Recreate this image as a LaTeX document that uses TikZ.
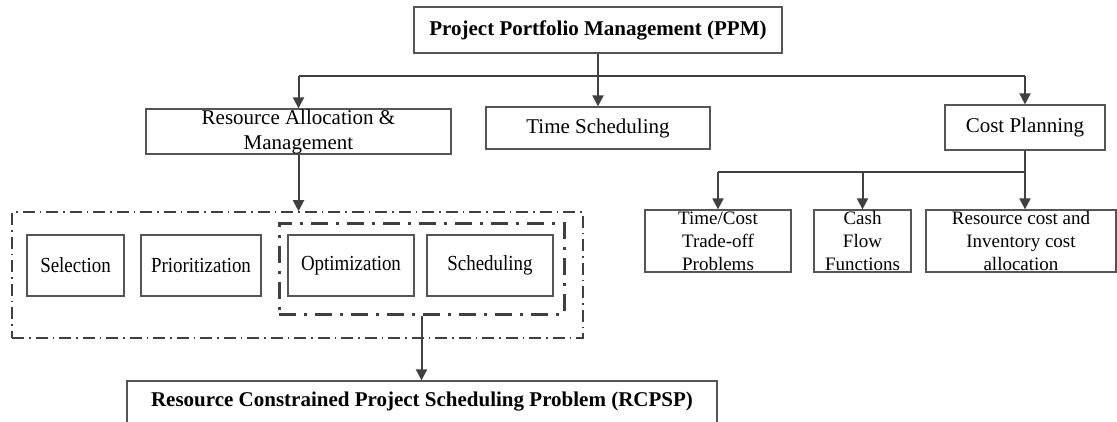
\documentclass[tikz,border=0pt]{standalone}
\usepackage{fontspec}
\setmainfont{Liberation Serif}
\newfontfamily\condfont[FakeStretch=0.88]{Liberation Serif}
\usetikzlibrary{arrows.meta}
\definecolor{linegray}{HTML}{404040}
\definecolor{boxgray}{HTML}{555555}
\begin{document}
\begin{tikzpicture}[x=1pt,y=-1pt,
  box/.style={draw=boxgray, line width=1.3pt, inner sep=0pt, align=center, font=\fontsize{19}{23}\selectfont},
  condbox/.style={box, font=\condfont\fontsize{21.5}{25}\selectfont},
  bigbox/.style={box, font=\fontsize{21}{25}\selectfont},
  boldbox/.style={box, font=\fontsize{21}{25}\selectfont\bfseries},
  conn/.style={draw=linegray, line width=2pt},
  arr/.style={conn, -{Triangle[length=11pt,width=11pt]}},
  outerdash/.style={draw=linegray, line width=1.6pt, dash pattern=on 12pt off 5pt on 1.5pt off 5pt},
  innerdash/.style={draw=linegray, line width=3pt, dash pattern=on 17pt off 8pt on 3pt off 8pt}]
\useasboundingbox (0,0) rectangle (1117,421);
\clip (0,0) rectangle (1117,421);
\fill[white] (0,0) rectangle (1117,421);

% top level
\node[boldbox, minimum width=368pt, minimum height=46pt] (ppm) at (598,30) {Project Portfolio Management (PPM)};
\node[bigbox, minimum width=305pt, minimum height=45pt] (ra) at (298.5,131.5) {Resource Allocation \&\\Management};
\node[bigbox, minimum width=224pt, minimum height=42pt] (ts) at (598,128) {Time Scheduling};
\node[bigbox, minimum width=160pt, minimum height=45pt] (cp) at (1025,127.5) {Cost Planning};

% cost sub-boxes
\node[box, minimum width=146pt, minimum height=62pt] (tc) at (718,241) {Time/Cost\\Trade-off\\Problems};
\node[box, minimum width=97pt, minimum height=62pt] (cf) at (862.5,241) {Cash\\Flow\\Functions};
\node[box, minimum width=190pt, minimum height=62pt] (rc) at (1021,241) {Resource cost and\\Inventory cost\\allocation};

% resource group
\node[outerdash, inner sep=0pt, minimum width=571pt, minimum height=126pt] (outer) at (297.5,275) {};
\node[innerdash, inner sep=0pt, minimum width=285pt, minimum height=91pt] (inner) at (421.5,268.5) {};
\node[condbox, minimum width=97pt, minimum height=61pt] (sel) at (75.5,265.5) {Selection};
\node[condbox, minimum width=120pt, minimum height=61pt] (pri) at (201,265.5) {Prioritization};
\node[condbox, minimum width=126pt, minimum height=61pt] (opt) at (351,265.5) {Optimization};
\node[condbox, minimum width=126pt, minimum height=61pt] (sch) at (490,265.5) {Scheduling};

% RCPSP
\node[boldbox, minimum width=590pt, minimum height=42pt] (rcpsp) at (422,402) {Resource Constrained Project Scheduling Problem (RCPSP)};

% connectors
\coordinate (h1) at (0,76);
\coordinate (h2) at (0,172);
\draw[arr] (ppm.south) -- (ts.north);
\draw[conn] (ra.north |- h1) -- (cp.north |- h1);
\draw[arr] (ra.north |- h1) -- (ra.north);
\draw[arr] (cp.north |- h1) -- (cp.north);
\draw[arr] (ra.south) -- (ra.south |- outer.north);
\draw[conn] (cp.south) -- (cp.south |- h2);
\draw[conn] (tc.north |- h2) -- (cp.south |- h2);
\draw[arr] (tc.north |- h2) -- (tc.north);
\draw[arr] (cf.north |- h2) -- (cf.north);
\draw[arr] (cp.south |- h2) -- (cp.south |- rc.north);
\draw[arr] (inner.south) -- (inner.south |- rcpsp.north);
\end{tikzpicture}
\end{document}
